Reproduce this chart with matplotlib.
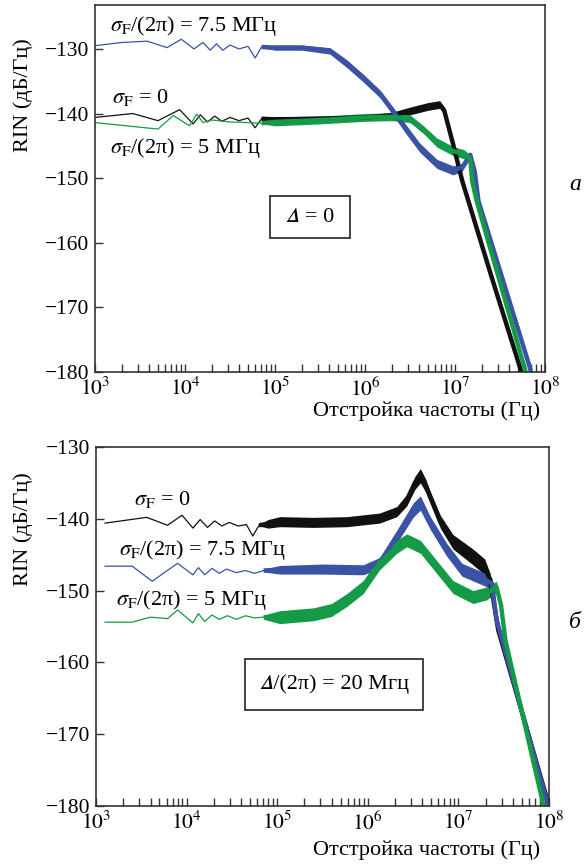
import numpy as np
import matplotlib
matplotlib.use("Agg")
import matplotlib.pyplot as plt
from matplotlib.patches import Rectangle

plt.rcParams["font.family"] = ["Liberation Serif", "STIXGeneral", "DejaVu Serif"]
plt.rcParams["mathtext.fontset"] = "stix"
plt.rcParams["axes.unicode_minus"] = True

BLACK = "#111111"
BLUE = "#3a53a4"
GREEN = "#159a48"

# ---- panel a (Delta = 0): log10(frequency), RIN level, half-width of noise band
a_black_lf = [3.0, 3.42, 3.7, 3.94, 4.09, 4.17, 4.25, 4.33, 4.41, 4.5, 4.6, 4.7, 4.78, 4.85,
              5.0, 5.5, 6.0, 6.3, 6.5, 6.7, 6.83, 6.88, 6.98, 7.08, 7.4, 7.72, 7.78]
a_black_db = [-140.6, -140.0, -141.1, -139.4, -141.6, -140.2, -141.3, -140.4, -141.2, -140.6, -141.1,
              -140.7, -142.2, -140.8, -140.9, -140.8, -140.6, -140.3, -139.6, -138.9, -138.6, -139.5,
              -144.8, -150.4, -165.0, -179.2, -182.0]
a_black_sp = [0, 0, 0, 0, 0, 0, 0, 0, 0, 0, 0, 0, 0, 0.1,
              0.4, 0.4, 0.4, 0.5, 0.6, 0.6, 0.6, 0.5, 0.3, 0.3, 0.3, 0.3, 0.3]

a_blue_lf = [3.0, 3.3, 3.58, 3.8, 3.96, 4.1, 4.2, 4.28, 4.35, 4.42, 4.5, 4.6, 4.7, 4.78, 4.85,
             5.0, 5.3, 5.61, 5.8, 5.98, 6.17, 6.31, 6.47, 6.61, 6.8, 6.98, 7.08, 7.17, 7.22, 7.26,
             7.83, 7.88]
a_blue_db = [-129.5, -129.0, -128.8, -129.8, -128.5, -130.0, -129.0, -130.2, -129.2, -130.2, -129.4,
             -130.0, -129.6, -131.4, -129.7, -129.8, -129.8, -130.3, -132.3, -134.5, -137.0, -139.6,
             -142.7, -145.3, -147.8, -148.8, -148.3, -146.4, -149.0, -153.5, -179.2, -182.0]
a_blue_sp = [0, 0, 0, 0, 0, 0, 0, 0, 0, 0, 0, 0, 0, 0, 0.1,
             0.4, 0.4, 0.5, 0.6, 0.6, 0.6, 0.6, 0.7, 0.7, 0.7, 0.7, 0.6, 0.5, 0.4, 0.3, 0.3, 0.3]

a_green_lf = [3.0, 3.7, 3.87, 4.05, 4.13, 4.2, 4.3, 4.5, 4.7, 4.85,
              5.0, 5.5, 6.0, 6.3, 6.5, 6.65, 6.8, 6.98, 7.1, 7.17, 7.19, 7.24, 7.78, 7.84]
a_green_db = [-141.4, -142.4, -140.3, -141.9, -140.1, -141.4, -141.0, -141.3, -141.4, -141.5,
              -141.3, -141.0, -140.6, -140.5, -140.8, -142.5, -144.5, -145.8, -146.3, -147.0,
              -150.4, -153.5, -179.7, -182.5]
a_green_sp = [0, 0, 0, 0, 0, 0, 0, 0, 0, 0.1,
              0.6, 0.6, 0.6, 0.6, 0.6, 0.6, 0.7, 0.7, 0.7, 0.6, 0.4, 0.3, 0.3, 0.3]

# ---- panel b (Delta/(2pi) = 20 MHz)
b_black_lf = [3.1, 3.56, 3.79, 3.95, 4.07, 4.15, 4.23, 4.31, 4.39, 4.47, 4.57, 4.66, 4.73, 4.8,
              4.9, 5.03, 5.4, 5.77, 6.13, 6.32, 6.43, 6.52, 6.58, 6.64, 6.69, 6.8, 6.94, 7.16,
              7.29, 7.35, 7.44, 8.0]
b_black_db = [-140.6, -139.8, -140.9, -139.5, -141.3, -140.1, -141.2, -140.3, -141.0, -140.5,
              -141.0, -140.8, -142.4, -140.9, -140.7, -140.4, -140.5, -140.4, -139.9, -139.0,
              -137.4, -135.0, -134.0, -135.4, -137.0, -140.4, -143.2, -145.3, -146.7, -148.5,
              -155.5, -180.0]
b_black_sp = [0, 0, 0, 0, 0, 0, 0, 0, 0, 0, 0, 0, 0, 0.1,
              0.6, 0.7, 0.7, 0.7, 0.7, 0.7, 0.8, 0.9, 1.0, 0.9, 0.8, 0.9, 1.0, 1.1, 1.1, 0.9,
              0.4, 0.3]

b_blue_lf = [3.1, 3.4, 3.62, 3.9, 4.07, 4.13, 4.2, 4.28, 4.36, 4.44, 4.55, 4.65, 4.75,
             4.85, 5.03, 5.5, 5.95, 6.13, 6.32, 6.5, 6.58, 6.69, 6.87, 7.04, 7.3, 7.37, 7.42, 7.99]
b_blue_db = [-146.6, -146.6, -148.7, -146.2, -147.8, -146.8, -147.8, -146.9, -147.6, -147.0,
             -147.5, -147.2, -147.6, -147.2, -147.1, -147.0, -147.1, -146.2, -142.5, -138.8,
             -137.8, -140.6, -144.3, -147.1, -148.5, -149.0, -154.0, -180.0]
b_blue_sp = [0, 0, 0, 0, 0, 0, 0, 0, 0, 0, 0, 0, 0,
             0.2, 0.6, 0.7, 0.7, 0.8, 0.9, 1.0, 1.0, 0.9, 0.9, 0.9, 0.9, 0.8, 0.4, 0.3]

b_green_lf = [3.1, 3.4, 3.6, 3.79, 3.9, 4.07, 4.13, 4.2, 4.28, 4.36, 4.45, 4.55, 4.65, 4.75,
              4.85, 5.03, 5.4, 5.6, 5.77, 5.95, 6.13, 6.32, 6.43, 6.58, 6.76, 6.94, 7.16, 7.31,
              7.42, 7.47, 7.52, 7.95]
b_green_db = [-154.4, -154.4, -153.7, -153.9, -152.7, -154.5, -153.2, -154.3, -153.4, -154.0,
              -153.5, -154.0, -153.5, -153.8, -153.7, -153.7, -153.3, -152.7, -151.3, -149.5,
              -146.2, -143.9, -143.0, -143.9, -146.7, -149.5, -150.9, -150.4, -149.5, -152.0,
              -157.0, -180.5]
b_green_sp = [0, 0, 0, 0, 0, 0, 0, 0, 0, 0, 0, 0, 0, 0,
              0.3, 0.9, 0.9, 0.9, 0.9, 0.9, 0.9, 0.9, 0.9, 0.9, 0.9, 0.9, 0.9, 0.9, 0.8, 0.6,
              0.4, 0.3]

yticks = [-180, -170, -160, -150, -140, -130]
xticks = [1e3, 1e4, 1e5, 1e6, 1e7, 1e8]
xtick_labels = ["$10^{3}$", "$10^{4}$", "$10^{5}$", "$10^{6}$", "$10^{7}$", "$10^{8}$"]

W, H = 586, 864
fig = plt.figure(figsize=(W / 100, H / 100), dpi=100)


def px(x0, y0, x1, y1):
    return [x0 / W, 1 - y1 / H, (x1 - x0) / W, (y1 - y0) / H]


def trace(ax, lf, db, sp, color):
    f = 10 ** np.array(lf)
    db = np.array(db)
    sp = np.array(sp)
    k = int(np.argmax(sp > 0))
    # thin low-frequency part, thick noisy part
    ax.plot(f[:k + 1], db[:k + 1], color=color, lw=0.9)
    ax.fill_between(f[k:], db[k:] - sp[k:], db[k:] + sp[k:], color=color, lw=0)
    ax.plot(f[k:], db[k:], color=color, lw=3.2, solid_capstyle="butt",
            solid_joinstyle="round")


def style(ax, ylim_top):
    ax.set_xscale("log")
    ax.set_xlim(1e3, 1e8)
    ax.set_ylim(-180, ylim_top)
    ax.set_yticks(yticks)
    ax.set_xticks(xticks)
    ax.set_xticklabels(xtick_labels)
    ax.tick_params(which="both", direction="in", top=False, right=False, labelsize=15.5,
                   width=1.0, color="#333333")
    ax.tick_params(which="major", length=6, pad=4)
    ax.tick_params(which="minor", length=6)
    for s in ax.spines.values():
        s.set_linewidth(1.2)
        s.set_color("#333333")
    ax.set_ylabel("RIN (дБ/Гц)", fontsize=16)


def label(x, y, s, ha="left"):
    fig.text(x / W, 1 - y / H, s, fontsize=16, ha=ha, va="center")


def box(x0, y0, x1, y1, s):
    fig.patches.append(Rectangle((x0 / W, 1 - y1 / H), (x1 - x0) / W, (y1 - y0) / H,
                                 transform=fig.transFigure, fill=False, lw=1.2,
                                 edgecolor="#222222"))
    fig.text((x0 + x1) / 2 / W, 1 - (y0 + y1) / 2 / H, s, fontsize=16,
             ha="center", va="center")


# panel a
ax1 = fig.add_axes(px(95, 5, 545, 372))
trace(ax1, a_black_lf, a_black_db, a_black_sp, BLACK)
trace(ax1, a_blue_lf, a_blue_db, a_blue_sp, BLUE)
trace(ax1, a_green_lf, a_green_db, a_green_sp, GREEN)
style(ax1, -123.2)
ax1.yaxis.set_label_coords(-0.138, 0.755)
label(110, 26, r"$\sigma_\mathrm{F}$/(2π) = 7.5 МГц")
label(112, 98, r"$\sigma_\mathrm{F}$ = 0")
label(110, 148, r"$\sigma_\mathrm{F}$/(2π) = 5 МГц")
box(270, 196, 350, 238, "\U0001D6E5 = 0")
fig.text(540 / W, 1 - 411 / H, "Отстройка частоты (Гц)", fontsize=16, ha="right", va="center")
fig.text(575 / W, 1 - 185 / H, "а", fontsize=17, style="italic", ha="center", va="center")

# panel b
ax2 = fig.add_axes(px(96, 447, 549, 806))
trace(ax2, b_black_lf, b_black_db, b_black_sp, BLACK)
trace(ax2, b_blue_lf, b_blue_db, b_blue_sp, BLUE)
trace(ax2, b_green_lf, b_green_db, b_green_sp, GREEN)
style(ax2, -130)
ax2.yaxis.set_label_coords(-0.138, 0.77)
label(134, 500, r"$\sigma_\mathrm{F}$ = 0")
label(119, 550, r"$\sigma_\mathrm{F}$/(2π) = 7.5 МГц")
label(116, 600, r"$\sigma_\mathrm{F}$/(2π) = 5 МГц")
box(245, 659, 423, 710, "\U0001D6E5/(2π) = 20 Мгц")
fig.text(540 / W, 1 - 850 / H, "Отстройка частоты (Гц)", fontsize=16, ha="right", va="center")
fig.text(575 / W, 1 - 622 / H, "б", fontsize=17, style="italic", ha="center", va="center")

fig.savefig("out.png", dpi=100)
